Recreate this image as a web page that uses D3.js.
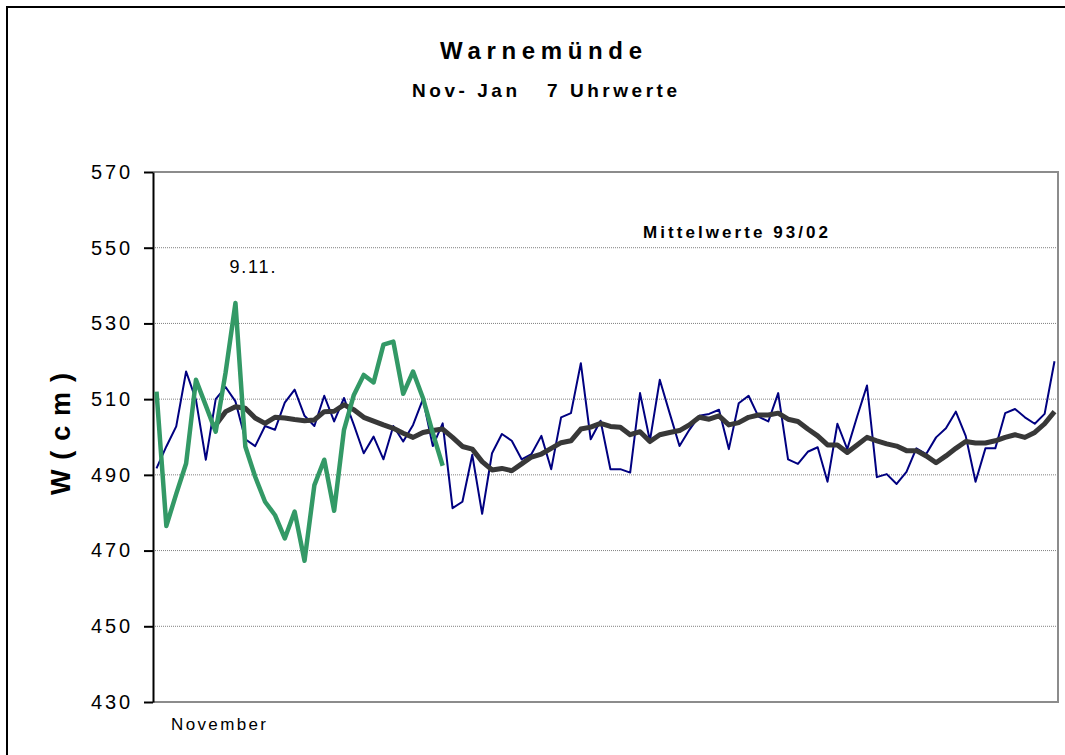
<!DOCTYPE html>
<html><head><meta charset="utf-8">
<script src="https://cdn.jsdelivr.net/npm/d3@7"></script>
<style>body{margin:0;background:#fff} svg{display:block;font-family:"Liberation Sans",Arial,sans-serif}</style>
</head><body>
<svg id="c" width="1065" height="755"></svg>
<script>
// ---- data ----
const titleText = "Warnemünde";
const subtitleText = "Nov- Jan   7 Uhrwerte";
const meanLabel = "Mittelwerte 93/02";
const peakLabel = "9.11.";
const peakIndex = 8;
const yLabel = "W ( c m )";
const xLabel = "November";
const yTicks = [430, 450, 470, 490, 510, 530, 550, 570];
const days = d3.range(92); // 1 Nov .. 31 Jan

// daily 7 o'clock water levels (blue), Nov–Jan
const dailyValues = [491.7, 497.5, 502.8, 517.3, 509.8, 494, 510, 513.2, 509.4, 499.4,
  497.6, 502.9, 501.9, 509.1, 512.5, 505.6, 502.9, 510.9, 504.1, 510.3,
  503.2, 495.7, 500.1, 494.1, 502.9, 498.8, 503.2, 510, 497.6, 503.6,
  481.2, 482.9, 495.3, 479.7, 495.7, 500.8, 499.0, 494.1, 495.5, 500.3,
  491.5, 505.2, 506.3, 519.5, 499.4, 504.3, 491.5, 491.5, 490.6, 511.6,
  499.0, 515.1, 506.3, 497.6, 501.9, 505.6, 506.1, 507.2, 496.8, 508.9,
  510.9, 505.4, 504.1, 511.6, 494.1, 492.9, 496.1, 497.3, 488.2, 503.5,
  496.8, 505.4, 513.6, 489.4, 490.2, 487.6, 490.8, 497, 495.5, 499.9,
  502.3, 506.7, 500.3, 488.2, 497, 497, 506.3, 507.4, 505.2, 503.5,
  506.1, 520];

// current November (green)
const novemberValues = [512.0, 476.5, 485, 493, 515.1, 508.3, 501.4, 517, 535.4, 497.5,
  489.5, 482.9, 479.4, 473.2, 480.3, 467.3, 487.3, 494, 480.5, 501.9,
  511.1, 516.4, 514.4, 524.4, 525.2, 511.4, 517.3, 510.3, 501, 492.4];

// mean values 93/02 (dark), starting at index 6
const meanValues = [null, null, null, null, null, null,
  503.2, 506.7, 508, 507.6, 505, 503.6, 505.2, 505, 504.6, 504.3,
  504.5, 506.7, 506.8, 508.5, 507.2, 505.2, 504.2, 503.2, 502.3, 501,
  499.9, 501.2, 501.7, 502.1, 499.9, 497.5, 496.8, 493.5, 491.3, 491.7,
  491.1, 492.9, 494.7, 495.5, 497, 498.5, 499, 502.1, 502.6, 503.6,
  502.8, 502.6, 500.6, 501.4, 498.8, 500.6, 501.2, 501.7, 503.2, 505.2,
  504.7, 505.6, 503.2, 503.8, 505.2, 505.8, 505.8, 506.3, 504.7, 504.1,
  502.1, 500.3, 497.9, 497.9, 495.9, 497.9, 499.9, 499, 498.2, 497.6,
  496.4, 496.4, 495, 493.2, 495, 497, 498.8, 498.4, 498.4, 499,
  499.9, 500.6, 499.9, 501.2, 503.5, 506.7];

// ---- layout ----
const svg = d3.select("#c");
const L = 153, R = 1058, T = 172, B = 702;
const x = d3.scaleLinear().domain([0, days.length - 1]).range([156.5, 1054.5]);
const y = d3.scaleLinear().domain([430, 570]).range([B, T]);

// outer border
svg.append("rect").attr("x", 7).attr("y", 7).attr("width", 1070).attr("height", 760)
  .attr("fill", "none").attr("stroke", "#000").attr("stroke-width", 2);

// gridlines
svg.append("g").selectAll("line").data(yTicks.filter(v => v > 430 && v < 570)).join("line")
  .attr("x1", L).attr("x2", R).attr("y1", d => y(d)).attr("y2", d => y(d))
  .attr("stroke", "#808080").attr("stroke-width", 1).attr("stroke-dasharray", "1,1");
// plot frame (top, right, bottom)
svg.append("path").attr("d", `M${L},${y(570)}H${R}V${y(430)}H${L}`)
  .attr("fill", "none").attr("stroke", "#8c8c8c").attr("stroke-width", 2);

// y axis
const yAxis = svg.append("g").attr("transform", `translate(${L},0)`)
  .call(d3.axisLeft(y).tickValues(yTicks).tickSize(9).tickPadding(14).tickSizeOuter(0));
yAxis.select(".domain").attr("stroke", "#000").attr("stroke-width", 2);
yAxis.selectAll(".tick line").attr("stroke", "#000").attr("stroke-width", 2);
yAxis.selectAll(".tick text").attr("font-size", 20).attr("fill", "#000")
  .attr("font-family", "Liberation Sans, Arial, sans-serif")
  .attr("textLength", 39).attr("lengthAdjust", "spacing");

// lines
const line = d3.line().defined(d => d != null).x((d, i) => x(i)).y(d => y(d));
svg.append("path").datum(dailyValues).attr("d", line)
  .attr("fill", "none").attr("stroke", "#000080").attr("stroke-width", 2).attr("stroke-linejoin", "round");
svg.append("path").datum(meanValues).attr("d", line)
  .attr("fill", "none").attr("stroke", "#383838").attr("stroke-width", 5).attr("stroke-linejoin", "round");
svg.append("path").datum(novemberValues).attr("d", line)
  .attr("fill", "none").attr("stroke", "#339966").attr("stroke-width", 4.5).attr("stroke-linejoin", "round");

// texts
function txt(s, px, py, size, weight, len, anchor) {
  return svg.append("text").attr("x", px).attr("y", py).text(s)
    .attr("font-size", size).attr("font-weight", weight).attr("fill", "#000")
    .attr("text-anchor", anchor || "start").style("white-space", "pre")
    .attr("textLength", len).attr("lengthAdjust", "spacing");
}
txt(titleText, 440, 59, 24, "bold", 202);
txt(subtitleText, 412, 97, 19, "bold", 265);
txt(meanLabel, 643, 238, 17, "bold", 185);
txt(peakLabel, x(peakIndex) - 6, 273, 18, "normal", 46);
txt(xLabel, 171, 730, 17, "normal", 95);
svg.append("text").attr("transform", "translate(70,434) rotate(-90)")
  .attr("text-anchor", "middle").attr("font-size", 27).attr("font-weight", "bold")
  .style("white-space", "pre").attr("textLength", 122).attr("lengthAdjust", "spacing")
  .text(yLabel);
</script>
</body></html>
